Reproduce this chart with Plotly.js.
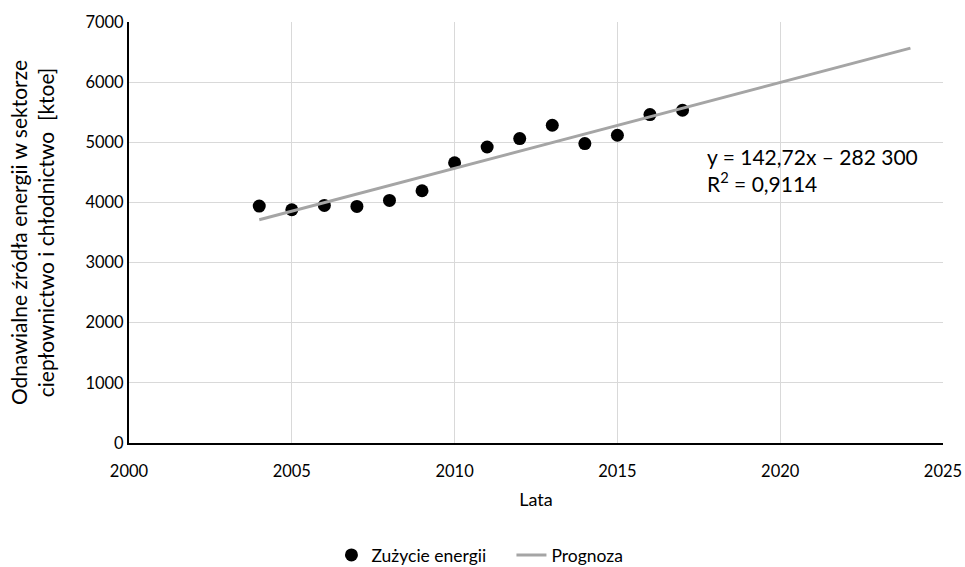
<!DOCTYPE html>
<html>
<head>
<meta charset="utf-8">
<script src="https://cdn.plot.ly/plotly-3.0.1.min.js"></script>
<style>html,body{margin:0;padding:0;background:#fff;}#chart{width:965px;height:567px;}</style>
</head>
<body>
<div id="chart"></div>
<script>
const years = [2004, 2005, 2006, 2007, 2008, 2009, 2010, 2011, 2012, 2013, 2014, 2015, 2016, 2017];
const consumption = [3940, 3878, 3950, 3933, 4033, 4194, 4660, 4922, 5061, 5283, 4978, 5117, 5461, 5533];
const trendYears = [2004, 2024];
const trendValues = [3711, 6565];
const seriesNames = ["Zużycie energii", "Prognoza"];
const equationText = "y = 142,72x – 282 300<br>R<sup>2</sup> = 0,9114";
const xTitle = "Lata";
const yTitle = "Odnawialne źródła energii w sektorze<br>ciepłownictwo i chłodnictwo  [ktoe]";

const font = "Lato, 'Open Sans', sans-serif";

const traces = [
  {
    x: years, y: consumption, name: seriesNames[0], type: "scatter", mode: "markers",
    marker: {color: "#000000", size: 13, symbol: "circle"}
  },
  {
    x: trendYears, y: trendValues, name: seriesNames[1], type: "scatter", mode: "lines",
    line: {color: "#a5a5a5", width: 3}
  }
];

const layout = {
  width: 965, height: 567,
  margin: {l: 129, r: 22, t: 22, b: 124},
  paper_bgcolor: "#ffffff", plot_bgcolor: "#ffffff",
  font: {family: font, size: 16, color: "#000000"},
  showlegend: true,
  legend: {orientation: "h", x: 0.53, xanchor: "center", xref: "container",
           y: 0.021, yanchor: "middle", yref: "container",
           font: {family: font, size: 17.5, color: "#000"}, entrywidth: 135, entrywidthmode: "pixels"},
  xaxis: {
    range: [2000, 2025], dtick: 5, tick0: 2000,
    showgrid: true, gridcolor: "#d9d9d9", gridwidth: 1,
    showline: true, linecolor: "#000000", linewidth: 2,
    zeroline: false, ticks: "", ticklen: 0, ticklabelstandoff: 12,
    automargin: false,
    tickfont: {family: font, size: 16.5, color: "#000"},
    title: {text: xTitle, font: {family: font, size: 18, color: "#000"}, standoff: 14}
  },
  yaxis: {
    range: [0, 7000], dtick: 1000, tick0: 0,
    showgrid: true, gridcolor: "#d9d9d9", gridwidth: 1,
    showline: true, linecolor: "#000000", linewidth: 2,
    zeroline: false, ticks: "", automargin: false,
    tickfont: {family: font, size: 16.5, color: "#000"},
    title: {text: yTitle, font: {family: font, size: 21, color: "#000"}, standoff: 25}
  },
  annotations: [{
    x: 2017.7, y: 4540, xref: "x", yref: "y", xanchor: "left", yanchor: "middle",
    text: equationText, showarrow: false, align: "left",
    font: {family: font, size: 21, color: "#000"}
  }]
};

Plotly.newPlot("chart", traces, layout, {displayModeBar: false, staticPlot: true});
</script>
</body>
</html>
